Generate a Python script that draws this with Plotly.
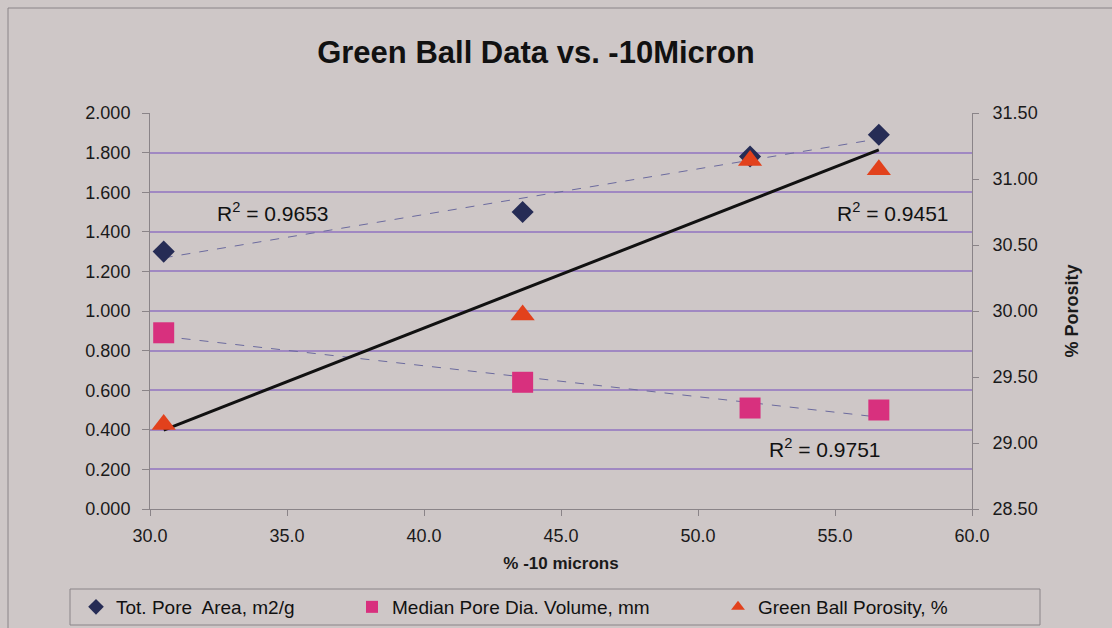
import numpy as np
import plotly.graph_objects as go

# % -10 micron fraction for each green ball sample
pct_minus10 = [30.5, 43.6, 51.9, 56.6]
# Left axis series
pore_area = [1.30, 1.50, 1.78, 1.89]          # Tot. Pore Area, m2/g
median_pore_dia = [0.89, 0.64, 0.51, 0.50]    # Median Pore Dia. Volume, mm
# Right axis series
porosity = [29.14, 29.97, 31.14, 31.07]       # Green Ball Porosity, %

left_ticks = [0.0, 0.2, 0.4, 0.6, 0.8, 1.0, 1.2, 1.4, 1.6, 1.8, 2.0]
right_ticks = [28.5, 29.0, 29.5, 30.0, 30.5, 31.0, 31.5]
x_ticks = [30, 35, 40, 45, 50, 55, 60]
r2_labels = ["R<sup>2</sup> = 0.9653", "R<sup>2</sup> = 0.9451", "R<sup>2</sup> = 0.9751"]

BG = "#cec7c7"
AXIS = "#8a8488"
FONT = "Arial, Liberation Sans, sans-serif"

W, H = 1112, 628
L, R, T, B = 150, 140, 113, 119
pw, ph = W - L - R, H - T - B


def px_x(x):
    return (x - L) / pw


def px_y(y):
    return 1 - (y - T) / ph


def linear_fit(xs, ys):
    k, b = np.polyfit(xs, ys, 1)
    xx = np.array([min(xs), max(xs)])
    return xx, k * xx + b


fig = go.Figure()

# linear trendlines
tx, ty = linear_fit(pct_minus10, pore_area)
fig.add_trace(go.Scatter(x=tx, y=ty, mode="lines", showlegend=False, hoverinfo="skip",
                         line=dict(color="#6b6a9e", width=1, dash="dash")))
tx, ty = linear_fit(pct_minus10, median_pore_dia)
fig.add_trace(go.Scatter(x=tx, y=ty, mode="lines", showlegend=False, hoverinfo="skip",
                         line=dict(color="#6b6a9e", width=1, dash="dash")))
tx, ty = linear_fit(pct_minus10, porosity)
fig.add_trace(go.Scatter(x=tx, y=ty, mode="lines", showlegend=False, hoverinfo="skip",
                         yaxis="y2", line=dict(color="#111111", width=3)))

# data series, each with its own legend entry slot
fig.add_trace(go.Scatter(x=pct_minus10, y=pore_area, mode="markers",
                         name="Tot. Pore  Area, m2/g", legend="legend",
                         marker=dict(symbol="diamond", size=17, color="#262c55")))
fig.add_trace(go.Scatter(x=pct_minus10, y=median_pore_dia, mode="markers",
                         name="Median Pore Dia. Volume, mm", legend="legend2",
                         marker=dict(symbol="square", size=21, color="#d8307e")))
fig.add_trace(go.Scatter(x=pct_minus10, y=porosity, mode="markers", yaxis="y2",
                         name="Green Ball Porosity, %", legend="legend3",
                         marker=dict(symbol="triangle-up", size=21, color="#e2411c")))

ann_pos = [(273, 212), (893, 212), (825, 448)]
annotations = [
    dict(x=px_x(ax), y=px_y(ay), xref="paper", yref="paper", text=t,
         xanchor="center", yanchor="middle", showarrow=False,
         font=dict(family=FONT, size=21, color="#111111"))
    for t, (ax, ay) in zip(r2_labels, ann_pos)
]


def legend_at(x_left):
    return dict(orientation="h", xref="container", yref="container",
                x=x_left / W, xanchor="left", y=1 - 607 / H, yanchor="middle",
                bgcolor="rgba(0,0,0,0)", borderwidth=0,
                font=dict(family=FONT, size=19, color="#111111"), itemsizing="constant")


fig.update_layout(
    width=W, height=H,
    margin=dict(l=L, r=R, t=T, b=B, autoexpand=False),
    paper_bgcolor=BG, plot_bgcolor=BG,
    font=dict(family=FONT, color="#1a1a1a"),
    title=dict(text="<b>Green Ball Data vs. -10Micron</b>", x=536 / W, xanchor="center",
               y=1 - 52 / H, yanchor="middle", font=dict(size=31, color="#111111")),
    annotations=annotations,
    xaxis=dict(range=[30, 60], tickvals=x_ticks, ticktext=[f"{v:.1f}" for v in x_ticks],
               showgrid=False, zeroline=False, showline=True, linecolor=AXIS,
               ticks="outside", ticklen=6, tickcolor=AXIS, ticklabelstandoff=4,
               tickfont=dict(size=18),
               title=dict(text="<b>% -10 microns</b>", font=dict(size=17), standoff=12)),
    yaxis=dict(range=[0, 2.0], tickvals=left_ticks,
               ticktext=[f"{v:.3f}" for v in left_ticks],
               showgrid=True, gridcolor="#a088c2", gridwidth=1.5, zeroline=False,
               showline=True, linecolor=AXIS, ticks="outside", ticklen=7,
               tickcolor=AXIS, ticklabelstandoff=8, tickfont=dict(size=18)),
    yaxis2=dict(range=[28.5, 31.5], tickvals=right_ticks,
                ticktext=[f"{v:.2f}" for v in right_ticks], overlaying="y", side="right",
                showgrid=False, zeroline=False, showline=True, linecolor=AXIS,
                ticks="outside", ticklen=6, tickcolor=AXIS, ticklabelstandoff=10,
                tickfont=dict(size=18),
                title=dict(text="<b>% Porosity</b>", font=dict(size=18), standoff=28)),
    legend=legend_at(76),
    legend2=legend_at(352),
    legend3=legend_at(718),
    shapes=[
        # legend frame
        dict(type="rect", xref="paper", yref="paper", x0=px_x(70), x1=px_x(1040),
             y0=px_y(625), y1=px_y(589), line=dict(color=AXIS, width=1), layer="below"),
        # chart frame
        dict(type="rect", xref="paper", yref="paper", x0=px_x(8), x1=px_x(1125),
             y0=px_y(640), y1=px_y(8), line=dict(color=AXIS, width=1), layer="below"),
    ],
)

fig.write_html("out.html")
